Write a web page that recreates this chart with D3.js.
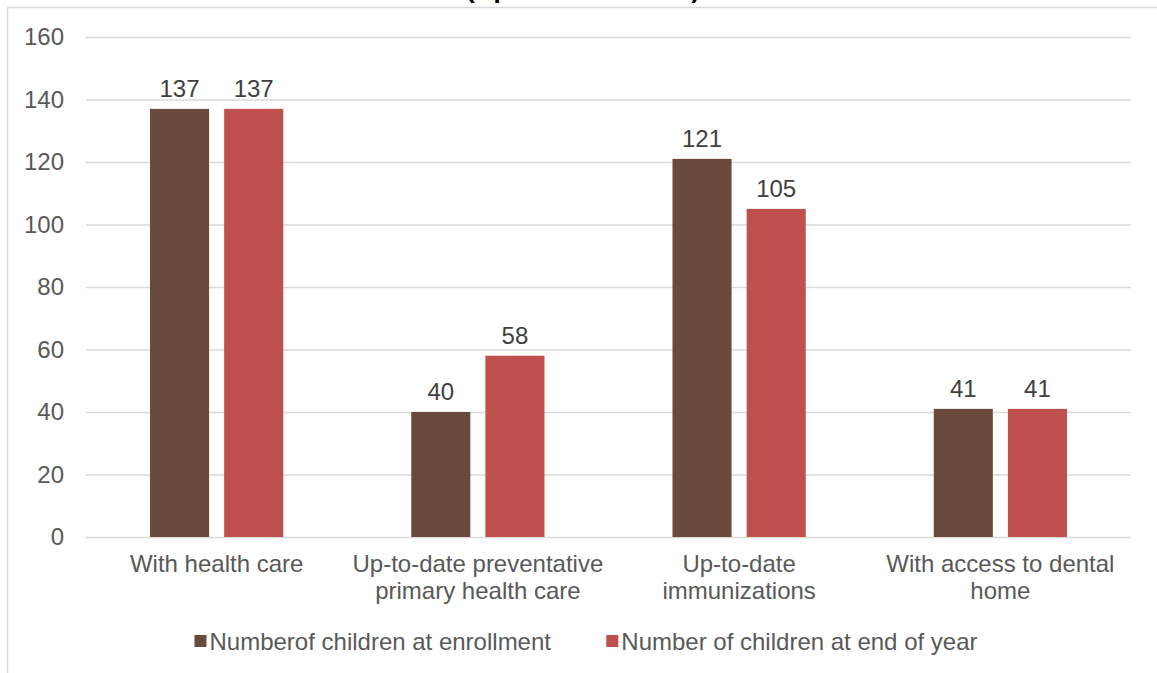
<!DOCTYPE html>
<html>
<head>
<meta charset="utf-8">
<script src="https://cdn.jsdelivr.net/npm/d3@7"></script>
<style>
  body { margin: 0; background: #fff; }
  svg { font-family: Arial, "Liberation Sans", sans-serif; display: block; }
  .axis text { fill: #595959; font-size: 24px; }
  .axis line { stroke: #d9d9d9; }
  .data-label { fill: #404040; font-size: 24px; }
  .cat-label { fill: #595959; font-size: 24px; }
  .legend-text { fill: #595959; font-size: 24px; }
</style>
</head>
<body>
<svg id="chart"></svg>
<script>
// chart values
const categories = [
  "With health care",
  "Up-to-date preventative\nprimary health care",
  "Up-to-date\nimmunizations",
  "With access to dental\nhome"
];
const seriesNames = ["Numberof children at enrollment", "Number of children at end of year"];
const enrollment = [137, 40, 121, 41];
const endOfYear = [137, 58, 105, 41];
const yTicks = [0, 20, 40, 60, 80, 100, 120, 140, 160];
const colors = ["#6a4a3c", "#c0504d"];

const config = {
  width: 1157,
  height: 673,
  margin: { top: 37, right: 26, bottom: 136, left: 86 }
};

const svg = d3.select('#chart')
    .attr('width', config.width)
    .attr('height', config.height);

// outer frame (partly cut by the page edge)
svg.append('rect')
    .attr('x', 7.5)
    .attr('y', 7.5)
    .attr('width', config.width + 20)
    .attr('height', config.height + 20)
    .attr('fill', 'none')
    .attr('stroke', '#d9d9d9')
    .attr('stroke-width', 1.5);

// title, mostly above the visible area (as in the original)
svg.append('text')
    .attr('x', 583)
    .attr('y', -2)
    .attr('text-anchor', 'middle')
    .style('font-size', '26px')
    .style('font-weight', 'bold')
    .style('fill', '#000')
    .text('(Up-to-date Status)');

const width = config.width - config.margin.left - config.margin.right;
const height = config.height - config.margin.top - config.margin.bottom;

const chart = svg.append('g')
    .attr('transform', `translate(${config.margin.left},${config.margin.top})`);

const yScale = d3.scaleLinear()
    .domain([0, 160])
    .range([height, 0]);

const xScale = d3.scaleBand()
    .domain(categories)
    .range([0, width])
    .padding(0);

const xInner = d3.scaleBand()
    .domain(seriesNames)
    .range([xScale.bandwidth() * 0.245, xScale.bandwidth() * 0.755])
    .paddingInner(0.203)
    .paddingOuter(0);

const yAxis = d3.axisLeft(yScale)
    .tickValues(yTicks)
    .tickSize(-width)
    .tickPadding(22)
    .tickFormat(d3.format('d'));

const yAxisG = chart.append('g')
    .attr('class', 'axis y-axis')
    .call(yAxis);
yAxisG.select('.domain').remove();
yAxisG.selectAll('line').attr('stroke', '#d9d9d9').attr('stroke-width', 1.5);

const rows = categories.map((c, i) => ({ category: c, values: [enrollment[i], endOfYear[i]] }));

const groups = chart.selectAll('.cat')
    .data(rows)
  .join('g')
    .attr('class', 'cat')
    .attr('transform', d => `translate(${xScale(d.category)},0)`);

groups.selectAll('rect')
    .data(d => d.values.map((v, j) => ({ series: seriesNames[j], value: v, j: j })))
  .join('rect')
    .attr('x', d => xInner(d.series))
    .attr('y', d => yScale(d.value))
    .attr('width', xInner.bandwidth())
    .attr('height', d => height - yScale(d.value))
    .attr('fill', d => colors[d.j]);

groups.selectAll('.data-label')
    .data(d => d.values.map((v, j) => ({ series: seriesNames[j], value: v })))
  .join('text')
    .attr('class', 'data-label')
    .attr('x', d => xInner(d.series) + xInner.bandwidth() / 2)
    .attr('y', d => yScale(d.value) - 12)
    .attr('text-anchor', 'middle')
    .text(d => d.value);

// category labels under the axis
groups.append('text')
    .attr('class', 'cat-label')
    .attr('text-anchor', 'middle')
    .attr('transform', `translate(${xScale.bandwidth() / 2},${height + 35})`)
    .selectAll('tspan')
    .data(d => d.category.split('\n'))
  .join('tspan')
    .attr('x', 0)
    .attr('dy', (d, i) => i === 0 ? 0 : 27)
    .text(d => d);

// legend
const legend = svg.append('g').attr('class', 'legend');
const legendY = 650;
const items = legend.selectAll('g')
    .data(seriesNames)
  .join('g');
items.append('rect')
    .attr('width', 12)
    .attr('height', 12)
    .attr('y', -15)
    .attr('fill', (d, i) => colors[i]);
items.append('text')
    .attr('class', 'legend-text')
    .attr('x', 15)
    .text(d => d);

let offset = 0;
const positions = [];
items.each(function(d) {
  positions.push(offset);
  offset += this.getBBox().width + 55;
});
const total = offset - 55;
const startX = 586 - total / 2;
items.attr('transform', (d, i) => `translate(${startX + positions[i]},${legendY})`);
</script>
</body>
</html>
